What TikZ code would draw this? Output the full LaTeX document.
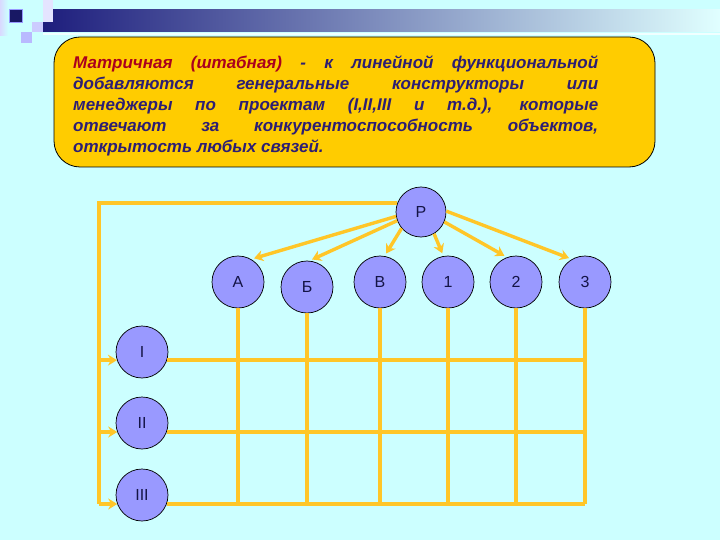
\documentclass[tikz,border=0pt]{standalone}
\usepackage{fontspec}
\setmainfont{Liberation Sans}
\usetikzlibrary{arrows.meta}
\definecolor{bg}{RGB}{204,255,255}
\definecolor{boxfill}{RGB}{255,204,0}
\definecolor{redtext}{RGB}{170,0,30}
\definecolor{bluetext}{RGB}{45,30,115}
\definecolor{lncol}{RGB}{255,198,40}
\definecolor{circfill}{RGB}{153,153,255}
\definecolor{circtext}{RGB}{20,20,70}
\definecolor{navy}{RGB}{30,30,125}
\begin{document}
\begin{tikzpicture}[x=1pt,y=-1pt,
  circ/.style={circle,draw=black,line width=0.7pt,fill=circfill,minimum size=52pt,inner sep=0pt,
    text=circtext,font=\fontsize{16}{18}\selectfont},
  ln/.style={draw=lncol,line width=3.4pt},
  arr/.style={draw=lncol,line width=3.4pt,-{Stealth[length=9pt,width=11pt]},shorten >=3pt}]
\useasboundingbox (0,0) rectangle (720,540);
\fill[bg] (0,0) rectangle (720,540);
% top decoration
\shade[left color=navy,right color=bg!60!white] (43,10) rectangle (720,32);
\fill[white!70!bg] (43,33) rectangle (720,35);
\shade[left color=white!85!blue,right color=bg] (0,0) rectangle (8,36);
\fill[white!70!blue!35] (43,0) rectangle (53,22);
\fill[navy!80!black,draw=white!60!blue,line width=0.6pt] (9,9) rectangle (22,22);
\fill[white!60!blue!50] (32,22) rectangle (43,32);
\fill[white!50!blue!55] (21,32) rectangle (32,43);
% text box
\draw[fill=boxfill,draw=black,line width=0.8pt,rounded corners=26pt] (54,37) rectangle (655,167);
\node[anchor=base west,inner sep=0pt,text=bluetext,font=\fontsize{17}{21}\selectfont\bfseries\itshape] (txt) at (73,69)
 {\parbox[t]{525pt}{%
 \makebox[525pt][s]{\textcolor{redtext}{Матричная (штабная)} - к линейной функциональной}\\
 \makebox[525pt][s]{добавляются генеральные конструкторы или}\\
 \makebox[525pt][s]{менеджеры по проектам (I,II,III и т.д.), которые}\\
 \makebox[525pt][s]{отвечают за конкурентоспособность объектов,}\\
 открытость любых связей.}};
% circles
\node[circ,minimum size=50pt] (P) at (421,212) {Р};
\node[circ] (A) at (238,282) {А};
\node[circ] (B) at (307,287) {Б};
\node[circ] (V) at (380,282) {В};
\node[circ] (N1) at (448,282) {1};
\node[circ] (N2) at (516,282) {2};
\node[circ] (N3) at (585,282) {3};
\node[circ] (R1) at (142,352) {I};
\node[circ] (R2) at (142,423) {II};
\node[circ] (R3) at (142,495) {III};
% arrows from P
\draw[arr] (P.190) -- (A.60);
\draw[arr] (P.200) -- (B.85);
\draw[arr] (P.220) -- (V.80);
\draw[arr] (P.-59) -- (N1.100);
\draw[arr] (P.-23) -- (N2.110);
\draw[arr] (P.2) -- (N3.120);
% left line
\coordinate (L) at (99,203);
\draw[ln] (P.159) -- (P.159 -| L) -- (L |- R3.200);
\draw[arr,shorten >=0pt] (L |- R1.198) -- (R1.198);
\draw[arr,shorten >=0pt] (L |- R2.200) -- (R2.200);
\draw[arr,shorten >=0pt] (L |- R3.200) -- (R3.200);
% grid
\draw[ln] (R1.-18) -- (R1.-18 -| N3.south);
\draw[ln] (R2.-20) -- (R2.-20 -| N3.south);
\draw[ln] (R3.-20) -- (R3.-20 -| N3.south);
\foreach \n in {A,B,V,N1,N2,N3}
  \draw[ln] (\n.south) -- (\n.south |- R3.-20);
\end{tikzpicture}
\end{document}
